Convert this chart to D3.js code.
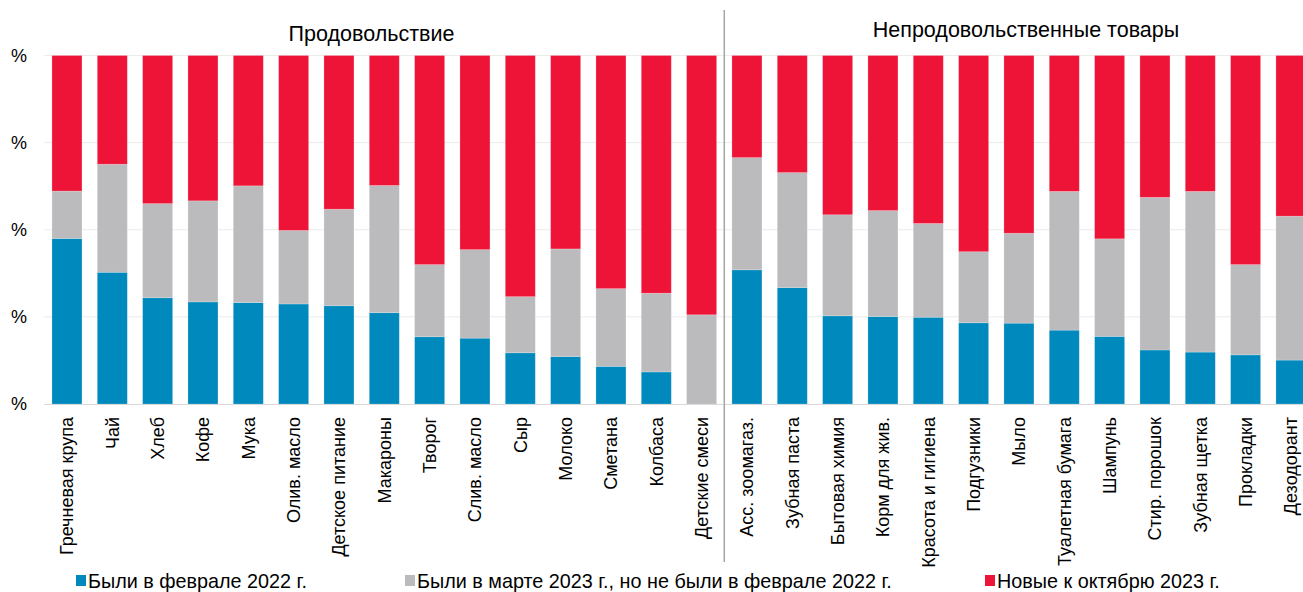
<!DOCTYPE html>
<html>
<head>
<meta charset="utf-8">
<script src="https://cdn.jsdelivr.net/npm/d3@7"></script>
<style>
  html, body { margin: 0; padding: 0; background: #fff; }
  svg { display: block; font-family: "Liberation Sans", Arial, sans-serif; }
</style>
</head>
<body>
<div id="chart"></div>
<script>
// categories: 15 food items, then 13 non-food items
var categories = ["Гречневая крупа", "Чай", "Хлеб", "Кофе", "Мука", "Олив. масло", "Детское питание",
  "Макароны", "Творог", "Слив. масло", "Сыр", "Молоко", "Сметана", "Колбаса", "Детские смеси",
  "Асс. зоомагаз.", "Зубная паста", "Бытовая химия", "Корм для жив.", "Красота и гигиена",
  "Подгузники", "Мыло", "Туалетная бумага", "Шампунь", "Стир. порошок", "Зубная щетка",
  "Прокладки", "Дезодорант"];

// shares, %
var feb2022 = [47.5, 37.8, 30.5, 29.3, 29.1, 28.7, 28.2, 26.2, 19.3, 18.9, 14.7, 13.6, 10.8, 9.2, 0,
  38.5, 33.4, 25.3, 25.1, 24.9, 23.3, 23.2, 21.2, 19.4, 15.5, 14.9, 14.1, 12.6];
var mar2023 = [13.6, 31.0, 27.0, 29.0, 33.5, 21.1, 27.7, 36.5, 20.7, 25.4, 16.1, 30.9, 22.3, 22.6, 25.6,
  32.2, 33.0, 29.0, 30.4, 26.9, 20.4, 25.8, 39.8, 28.0, 43.8, 46.1, 25.9, 41.3];
var oct2023 = [38.9, 31.2, 42.5, 41.7, 37.4, 50.2, 44.1, 37.3, 60.0, 55.7, 69.2, 55.5, 66.9, 68.2, 74.4,
  29.3, 33.6, 45.7, 44.5, 48.2, 56.3, 51.0, 39.0, 52.6, 40.7, 39.0, 60.0, 46.1];

var seriesNames = ["Были в феврале 2022 г.", "Были в марте 2023 г., но не были в феврале 2022 г.", "Новые к октябрю 2023 г."];
var seriesKeys = ["feb", "mar", "oct"];
var colors = ["#0089bc", "#bbbbbd", "#ee1437"];
var yTicks = [0, 25, 50, 75, 100];
var yTickLabels = ["%", "%", "%", "%", "%"];   // the numbers are cut off at the left edge
var groupTitles = ["Продовольствие", "Непродовольственные товары"];

var width = 1303, height = 592;

var svg = d3.select("#chart").append("svg")
  .attr("width", width)
  .attr("height", height);

var rows = categories.map(function(c, i){
  return { cat: c, feb: feb2022[i], mar: mar2023[i], oct: oct2023[i] };
});

var x = d3.scaleBand()
  .domain(categories)
  .range([44.3, 1313.6])
  .paddingInner(0.338)
  .paddingOuter(0.169);

var y = d3.scaleLinear()
  .domain([0, 100])
  .range([404, 55.5]);

// gridlines
svg.append("g")
  .selectAll("line")
  .data(yTicks.slice(1))
  .enter()
  .append("line")
  .attr("x1", 44)
  .attr("x2", width)
  .attr("y1", function(d){ return y(d); })
  .attr("y2", function(d){ return y(d); })
  .attr("stroke", "#ebebeb")
  .attr("stroke-width", 1);

// y labels
svg.append("g")
  .selectAll("text")
  .data(yTicks)
  .enter()
  .append("text")
  .attr("x", 27)
  .attr("y", function(d){ return y(d); })
  .attr("dy", "0.35em")
  .attr("text-anchor", "end")
  .attr("font-size", 18)
  .attr("fill", "#000")
  .text(function(d, i){ return yTickLabels[i]; });

// stacked bars
var stack = d3.stack().keys(seriesKeys);
var layers = stack(rows);

svg.append("g")
  .selectAll("g")
  .data(layers)
  .enter()
  .append("g")
  .attr("fill", function(d, i){ return colors[i]; })
  .selectAll("rect")
  .data(function(d){ return d; })
  .enter()
  .append("rect")
  .attr("x", function(d){ return x(d.data.cat); })
  .attr("width", x.bandwidth())
  .attr("y", function(d){ return y(d[1]); })
  .attr("height", function(d){ return y(d[0]) - y(d[1]); })
  .attr("stroke", "#fff")
  .attr("stroke-opacity", 0.25)
  .attr("stroke-width", 0.8);

// x axis line
svg.append("line")
  .attr("x1", 44)
  .attr("x2", width)
  .attr("y1", y(0) + 0.5)
  .attr("y2", y(0) + 0.5)
  .attr("stroke", "#d9d9d9");

// category labels, rotated
svg.append("g")
  .selectAll("text")
  .data(categories)
  .enter()
  .append("text")
  .attr("transform", function(d){
    return "translate(" + (x(d) + x.bandwidth() / 2) + ",417) rotate(-90)";
  })
  .attr("text-anchor", "end")
  .attr("dy", "0.35em")
  .attr("font-size", 18)
  .attr("fill", "#000")
  .text(function(d){ return d; });

// separator between food and non-food
var sepX = (x(categories[14]) + x.bandwidth() + x(categories[15])) / 2;
svg.append("line")
  .attr("x1", sepX)
  .attr("x2", sepX)
  .attr("y1", 10)
  .attr("y2", 562)
  .attr("stroke", "#a6a6a6")
  .attr("stroke-width", 1.5);

// group titles
svg.append("text")
  .attr("x", 371.5)
  .attr("y", 41)
  .attr("text-anchor", "middle")
  .attr("font-size", 21.5)
  .attr("fill", "#000")
  .text(groupTitles[0]);

svg.append("text")
  .attr("x", 1026)
  .attr("y", 37)
  .attr("text-anchor", "middle")
  .attr("font-size", 21.5)
  .attr("fill", "#000")
  .text(groupTitles[1]);

// legend
var legendX = [76, 405, 985];
var legend = svg.append("g")
  .selectAll("g")
  .data(seriesNames)
  .enter()
  .append("g")
  .attr("transform", function(d, i){ return "translate(" + legendX[i] + ",0)"; });

legend.append("rect")
  .attr("x", 0)
  .attr("y", 575)
  .attr("width", 10)
  .attr("height", 11)
  .attr("fill", function(d, i){ return colors[i]; });

legend.append("text")
  .attr("x", 12)
  .attr("y", 588)
  .attr("font-size", 19.8)
  .attr("fill", "#000")
  .text(function(d){ return d; });
</script>
</body>
</html>
